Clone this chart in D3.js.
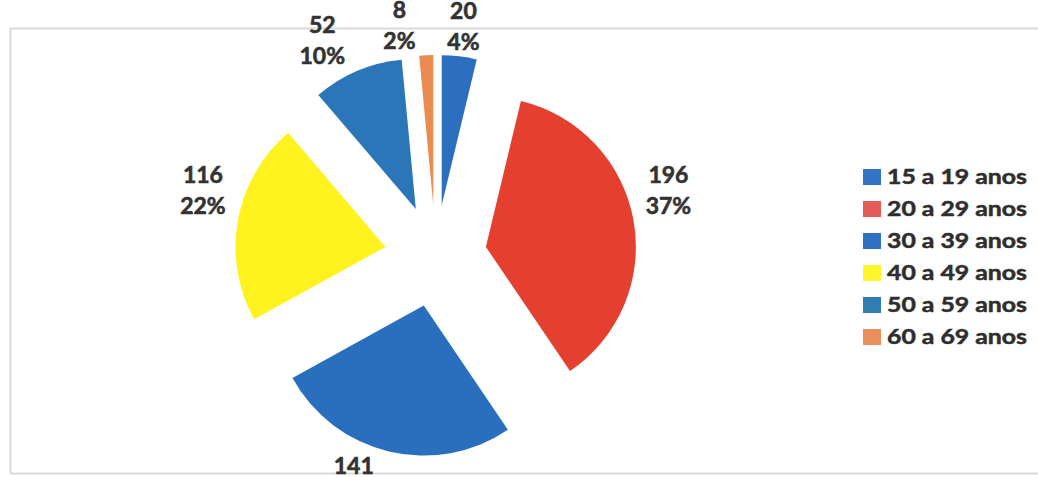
<!DOCTYPE html>
<html>
<head>
<meta charset="utf-8">
<script src="https://cdn.jsdelivr.net/npm/d3@7"></script>
<style>
  html, body { margin: 0; padding: 0; background: #ffffff; }
  svg { display: block; }
</style>
</head>
<body>
<svg id="chart" width="1038" height="477"></svg>
<script>
// ---- data ----
const categories = ["15 a 19 anos", "20 a 29 anos", "30 a 39 anos", "40 a 49 anos", "50 a 59 anos", "60 a 69 anos"];
const values = [20, 196, 141, 116, 52, 8];
const colors = ["#2b6fbe", "#e53f30", "#2a6fbd", "#fff21f", "#2a76b9", "#ea8b50"];
const legendColors = ["#3273c2", "#e25b57", "#2f70bf", "#fff52a", "#2f7db3", "#e98f5c"];

// ---- layout ----
const cx = 435.7, cy = 256;
const radius = 150;
const explode = 51;
const svg = d3.select("#chart");

// frame
svg.append("rect")
  .attr("x", 10.5).attr("y", 28.5)
  .attr("width", 1040).attr("height", 445)
  .attr("fill", "none")
  .attr("stroke", "#dadada")
  .attr("stroke-width", 2);

const total = d3.sum(values);
const data = categories.map((c, i) => ({ cat: c, value: values[i], color: colors[i], i }));

const pie = d3.pie().value(d => d.value).sort(null);
const arcs = pie(data);
const arc = d3.arc().innerRadius(0).outerRadius(radius);

const g = svg.append("g").attr("transform", `translate(${cx},${cy})`);

g.selectAll("path.slice")
  .data(arcs)
  .join("path")
  .attr("class", "slice")
  .attr("d", arc)
  .attr("fill", d => d.data.color)
  .attr("transform", d => {
    const a = (d.startAngle + d.endAngle) / 2;
    return `translate(${explode * Math.sin(a)},${-explode * Math.cos(a)})`;
  });

// ---- labels (outside end, Excel-like) ----
const boxW = 70, boxH = 60, collideW = 64;
const labels = arcs.map(d => {
  const a = (d.startAngle + d.endAngle) / 2;
  const dx = Math.sin(a), dy = -Math.cos(a);
  const R = radius + explode;
  const px = R * dx, py = R * dy;
  const lx = Math.abs(dx) < 0.2 ? px + dx * boxW / 2 : px + Math.sign(dx) * boxW / 2;
  const ly = py + Math.sign(dy) * boxH / 2;
  return { d, a, x: lx, y: ly };
});
// simple collision: push the counter-clockwise label leftwards
for (let k = labels.length - 1; k > 0; k--) {
  for (let j = 0; j < labels.length; j++) {
    if (j === k) continue;
    const A = labels[k], B = labels[j];
    if (A.a > B.a && Math.abs(A.x - B.x) < collideW && Math.abs(A.y - B.y) < boxH && A.y < 0 && B.y < 0) {
      A.x = B.x - collideW;
    }
  }
}

const lineGap = 31;
const lab = g.selectAll("text.lbl")
  .data(labels)
  .join("text")
  .attr("class", "lbl")
  .attr("text-anchor", "middle")
  .attr("font-family", "Lato, 'Open Sans', sans-serif")
  .attr("font-weight", 700)
  .attr("font-size", 23)
  .attr("fill", "#333333")
  .attr("stroke", "#333333")
  .attr("stroke-width", 0.6);
lab.append("tspan")
  .attr("x", d => d.x)
  .attr("y", d => d.y - lineGap / 2 + 8)
  .text(d => d.d.data.value);
lab.append("tspan")
  .attr("x", d => d.x)
  .attr("y", d => d.y + lineGap / 2 + 8)
  .text(d => Math.round(d.d.data.value / total * 100) + "%");

// ---- legend ----
const legend = svg.append("g").attr("transform", "translate(863,169)");
const rowH = 32;
const items = legend.selectAll("g.item")
  .data(categories)
  .join("g")
  .attr("class", "item")
  .attr("transform", (d, i) => `translate(0,${i * rowH})`);
items.append("rect")
  .attr("x", 0).attr("y", 0)
  .attr("width", 18).attr("height", 16)
  .attr("fill", (d, i) => legendColors[i]);
items.append("text")
  .attr("x", 24).attr("y", 15)
  .attr("font-family", "Lato, 'Open Sans', sans-serif")
  .attr("font-weight", 700)
  .attr("font-size", 20)
  .attr("textLength", 140)
  .attr("lengthAdjust", "spacingAndGlyphs")
  .attr("fill", "#2e2e2e")
  .attr("stroke", "#2e2e2e")
  .attr("stroke-width", 0.5)
  .text(d => d);
</script>
</body>
</html>
